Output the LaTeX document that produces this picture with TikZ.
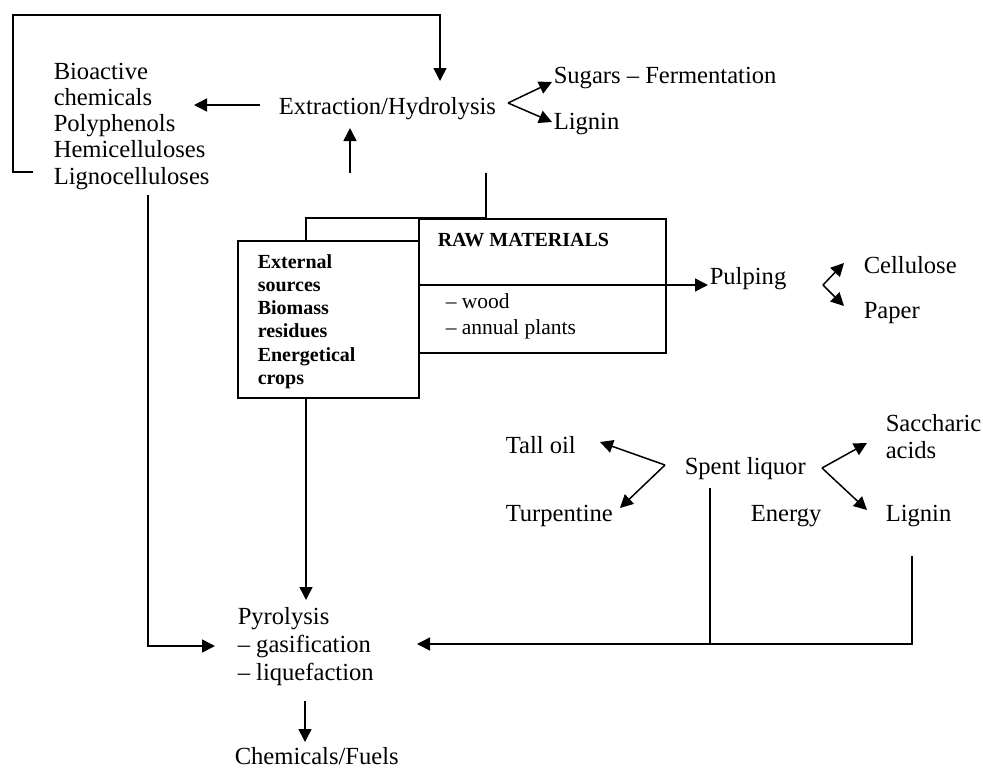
\documentclass[tikz,border=0pt]{standalone}
\usepackage{fontspec}
\setmainfont{Liberation Serif}
\usetikzlibrary{arrows.meta}
\begin{document}
\begin{tikzpicture}[x=1pt,y=-1pt,
  line width=1.5pt,
  arr/.style={-{Triangle[length=13pt,width=13pt]}},
  lbl/.style={anchor=base west,inner sep=0pt,align=left,
    font=\fontsize{24.6}{26.3}\selectfont},
  blbl/.style={anchor=base west,inner sep=0pt,align=left,
    font=\fontsize{20}{23.3}\selectfont\bfseries},
  slbl/.style={anchor=base west,inner sep=0pt,align=left,
    font=\fontsize{21.5}{26}\selectfont},
  boxshape/.style={draw,rectangle,anchor=north west,inner sep=0pt}]
\useasboundingbox (0,0) rectangle (983,769);

% boxes
\node[boxshape,minimum width=247pt,minimum height=134pt] (raw) at (418,218) {};
\node[boxshape,minimum width=181pt,minimum height=157pt,fill=white] (ext) at (237,240) {};

% texts (multi-line nodes are placed by the baseline of their last line)
\node[lbl] (bio) at (53,184.2) {Bioactive\\chemicals\\Polyphenols\\Hemicelluloses\\Lignocelluloses};
\node[lbl] (extr) at (278,114) {Extraction/Hydrolysis};
\node[lbl] (sugars) at (553,83) {Sugars -- Fermentation};
\node[lbl] (lig1) at (553,129) {Lignin};
\node[blbl] (rawt) at (437,246) {RAW MATERIALS};
\node[slbl] (rawl) at (445,334) {-- wood\\-- annual plants};
\node[blbl] (extt) at (257,384.5) {External\\sources\\Biomass\\residues\\Energetical\\crops};
\node[lbl] (pulp) at (709,284) {Pulping};
\node[lbl] (cell) at (863,273) {Cellulose};
\node[lbl] (paper) at (863,318) {Paper};
\node[lbl] (tall) at (505,453) {Tall oil};
\node[lbl] (turp) at (505,521) {Turpentine};
\node[lbl] (spent) at (684,474) {Spent liquor};
\node[lbl] (energy) at (750,521) {Energy};
\node[lbl,font=\fontsize{24.6}{27}\selectfont] (sacc) at (885,458) {Saccharic\\acids};
\node[lbl] (lig2) at (885,521) {Lignin};
\node[lbl,font=\fontsize{24.6}{28}\selectfont] (pyro) at (237,680) {Pyrolysis\\-- gasification\\-- liquefaction};
\node[lbl] (chem) at (234,764) {Chemicals/Fuels};

% connector end points
\coordinate (loopA) at (33,172);
\coordinate (loopB) at (13,15);
\coordinate (extrTop) at (440,81);
\coordinate (extrL) at (260,105);
\coordinate (bioR) at (194,105);
\coordinate (forkL) at (306,240);
\coordinate (forkM) at (350,173);
\coordinate (forkR) at (486,218);
\coordinate (extrBot) at (350,128);
\coordinate (extrV) at (508,103);
\coordinate (sugTip) at (552,82);
\coordinate (ligTip) at (552,122);
\coordinate (pulpIn) at (708,285);
\coordinate (pulpV) at (823,285);
\coordinate (cellTip) at (844,263);
\coordinate (papTip) at (844,306);
\coordinate (spL) at (665,465);
\coordinate (tallTip) at (600,442);
\coordinate (turpTip) at (620,508);
\coordinate (spR) at (822,468);
\coordinate (saccTip) at (867,443);
\coordinate (ligTip2) at (867,510);
\coordinate (spDown) at (710,488);
\coordinate (ligDown) at (912,556);
\coordinate (pyroR) at (417,644);
\coordinate (lignoDown) at (148,195);
\coordinate (pyroL) at (215,646);
\coordinate (pyroTop) at (306,600);
\coordinate (pyroBot) at (305,701);
\coordinate (chemTop) at (305,742);

% connectors
\draw[arr] (loopA) -| (loopB) -| (extrTop);
\draw[arr] (extrL) -- (bioR);
\draw (forkL) |- (forkR);
\draw (forkR |- forkM) -- (forkR);
\draw[arr] (forkM) -- (extrBot);
\draw[arr] (extrV) -- (sugTip);
\draw[arr] (extrV) -- (ligTip);
\draw[arr] (raw.west |- pulpIn) -- (pulpIn);
\draw[arr] (pulpV) -- (cellTip);
\draw[arr] (pulpV) -- (papTip);
\draw[arr] (spL) -- (tallTip);
\draw[arr] (spL) -- (turpTip);
\draw[arr] (spR) -- (saccTip);
\draw[arr] (spR) -- (ligTip2);
\draw (spDown) -- (spDown |- pyroR);
\draw[arr] (ligDown) |- (pyroR);
\draw[arr] (lignoDown) |- (pyroL);
\draw[arr] (ext.south -| pyroTop) -- (pyroTop);
\draw[arr] (pyroBot) -- (chemTop);
\end{tikzpicture}
\end{document}
